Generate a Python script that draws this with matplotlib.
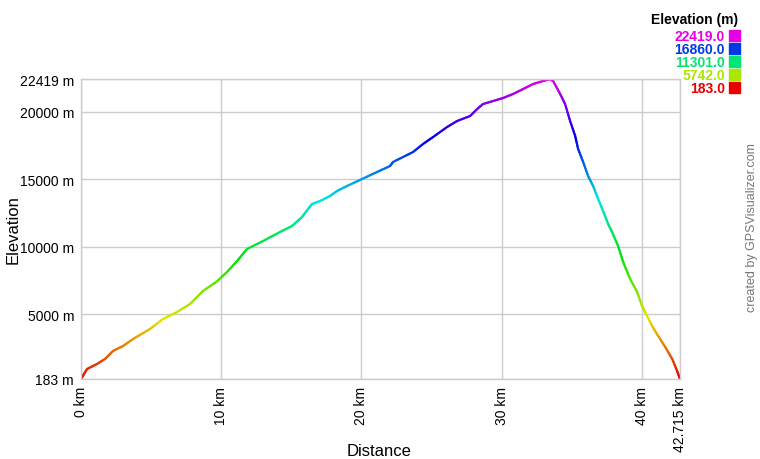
"""Elevation profile in the GPSVisualizer style."""

import colorsys
import numpy as np
import matplotlib
matplotlib.use("Agg")
import matplotlib.pyplot as plt
from matplotlib.collections import LineCollection
from matplotlib.patches import Rectangle

plt.rcParams['font.family'] = ['Liberation Sans', 'DejaVu Sans']

# track (km, m)
dist_km = [0, 0.43, 1.14, 1.71, 2.28, 3.00, 3.71, 4.92, 5.85, 6.85, 7.77, 8.70,
           9.70, 10.41, 11.13, 11.84, 12.98, 14.19, 15.05, 15.76, 16.19, 16.48,
           17.05, 17.76, 18.26, 18.97, 20.04, 21.11, 22.04, 22.25, 23.68, 24.39,
           25.11, 26.11, 26.82, 27.75, 28.25, 28.67, 29.39, 30.10, 30.81, 31.53,
           32.24, 32.95, 33.45, 33.67, 34.17, 34.52, 34.88, 35.24, 35.45, 35.81,
           36.16, 36.52, 36.88, 37.23, 37.59, 37.87, 38.30, 38.66, 39.16, 39.66,
           40.01, 40.37, 40.73, 41.16, 41.66, 42.16, 42.51, 42.715]
elev_m = [183, 924, 1295, 1665, 2258, 2629, 3148, 3889, 4630, 5149, 5742, 6706,
          7424, 8114, 8929, 9819, 10412, 11079, 11523, 12190, 12783, 13154,
          13376, 13747, 14118, 14488, 15007, 15526, 15971, 16267, 17008, 17601,
          18120, 18862, 19306, 19677, 20195, 20566, 20788, 21011, 21307, 21678,
          22048, 22271, 22419, 22271, 21307, 20566, 19306, 18194, 17230, 16267,
          15230, 14488, 13525, 12635, 11671, 11079, 10041, 8855, 7595, 6631,
          5594, 4852, 4111, 3370, 2555, 1665, 776, 183]

y_ticks = [183, 5000, 10000, 15000, 20000, 22419]
y_tick_labels = ['183 m', '5000 m', '10000 m', '15000 m', '20000 m', '22419 m']
x_ticks = [0, 10, 20, 30, 40, 42.715]
x_tick_labels = ['0 km', '10 km', '20 km', '30 km', '40 km', '42.715 km']
legend_values = [22419.0, 16860.0, 11301.0, 5742.0, 183.0]

e_min, e_max = 183, 22419


def elev_color(e):
    frac = (e - e_min) / (e_max - e_min)
    frac = min(max(frac, 0), 1)
    return colorsys.hsv_to_rgb(frac * 300 / 360, 1.0, 0.9)


fig = plt.figure(figsize=(7.6, 4.6), dpi=100)
ax = fig.add_axes([81 / 760, 1 - 380 / 460, 599 / 760, 300 / 460])

# fine resampling so the colour changes smoothly along the line
xs = np.array(dist_km)
ys = np.array(elev_m)
fine_x = []
fine_y = []
for i in range(len(xs) - 1):
    t = np.linspace(0, 1, 8, endpoint=False)
    fine_x.extend(xs[i] + (xs[i + 1] - xs[i]) * t)
    fine_y.extend(ys[i] + (ys[i + 1] - ys[i]) * t)
fine_x.append(xs[-1])
fine_y.append(ys[-1])
pts = np.column_stack([fine_x, fine_y]).reshape(-1, 1, 2)
segs = np.concatenate([pts[:-1], pts[1:]], axis=1)
cols = [elev_color((a + b) / 2) for a, b in zip(fine_y[:-1], fine_y[1:])]
lc = LineCollection(segs, colors=cols, linewidths=1.6, capstyle='round')
ax.add_collection(lc)

ax.set_xlim(0, 42.715)
ax.set_ylim(e_min, e_max)
ax.set_xticks(x_ticks)
ax.set_xticklabels(x_tick_labels, rotation=90, fontsize=10)
ax.set_yticks(y_ticks)
ax.set_yticklabels(y_tick_labels, fontsize=10)
ax.tick_params(length=0, pad=5)
ax.grid(True, color='#cccccc', linewidth=1)
ax.set_axisbelow(True)
for sp in ax.spines.values():
    sp.set_color('#cccccc')
    sp.set_linewidth(1)

ax.set_xlabel('Distance', fontsize=12)
ax.set_ylabel('Elevation', fontsize=12)
ax.xaxis.set_label_coords(0.498, -0.213)
ax.yaxis.set_label_coords(-0.101, 0.5)

# legend block
fig.text(738 / 760, 1 - 20 / 460, 'Elevation (m)', ha='right', va='center',
         fontsize=10, fontweight='bold')
for k, v in enumerate(legend_values):
    yc = 37 + 13 * k
    c = elev_color(v)
    fig.text(725 / 760, 1 - yc / 460, '%.1f' % v, ha='right', va='center',
             fontsize=10, fontweight='bold', color=c)
    fig.patches.append(Rectangle((729 / 760, 1 - (yc + 5) / 460), 11 / 760, 11 / 460,
                                 transform=fig.transFigure, color=c))

fig.text(752 / 760, 1 - 228 / 460, 'created by GPSVisualizer.com', rotation=90,
         ha='center', va='center', fontsize=9, color='#777777')

fig.savefig('out.png', dpi=100)
